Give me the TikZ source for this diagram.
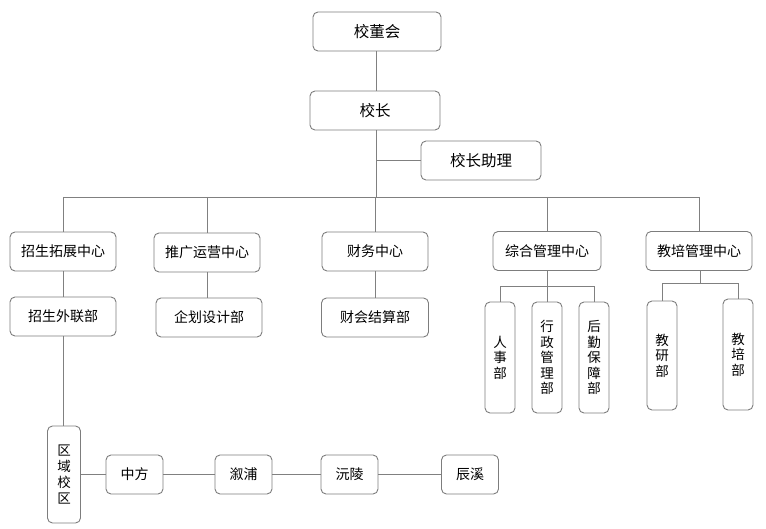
\documentclass[tikz,border=0pt]{standalone}
\usepackage{fontspec}
\setmainfont{Noto Sans CJK SC}
\usepackage{xcolor}
\usetikzlibrary{positioning}

\definecolor{boxgray}{RGB}{125,125,125}
\definecolor{linegray}{RGB}{128,128,128}

\tikzset{
  box/.style={draw=boxgray, fill=white, rounded corners=5pt, line width=0.9pt, inner sep=0pt,
    minimum width=106, minimum height=39, font=\fontsize{14}{15}\selectfont},
  topbox/.style={box, minimum width=128, font=\fontsize{15.5}{17}\selectfont},
  vbox/.style={box, minimum width=30, align=center, font=\fontsize{13.5}{15.5}\selectfont},
  link/.style={draw=linegray, line width=0.8pt},
}

\begin{document}
\begin{tikzpicture}[x=1pt, y=-1pt]
  \useasboundingbox (0,0) rectangle (766,529);

  % top
  \node[topbox] (board) at (377,31.5) {校董会};
  \node[topbox, minimum width=130] (head) at (375,110.5) {校长};
  \node[topbox, minimum width=120] (assist) at (481,160.5) {校长助理};
  \coordinate (bus) at (376,197);

  % centres
  \node[box] (recruit) at (63,251.5) {招生拓展中心};
  \node[box] (promo) at (207,252.5) {推广运营中心};
  \node[box] (finance) at (375,251.5) {财务中心};
  \node[box, minimum width=108] (admin) at (547,251) {综合管理中心};
  \node[box] (teach) at (699,251) {教培管理中心};

  % departments
  \node[box] (liaison) at (63,316.5) {招生外联部};
  \node[box] (design) at (209,317.5) {企划设计部};
  \node[box, minimum width=107] (account) at (375,317.5) {财会结算部};

  \node[vbox, minimum height=111] (hr) at (500,357.5) {人\\事\\部};
  \node[vbox, minimum height=111] (office) at (547,357.5) {行\\政\\管\\理\\部};
  \node[vbox, minimum height=111] (logi) at (594,357.5) {后\\勤\\保\\障\\部};
  \coordinate (adminbus) at (547,286);

  \node[vbox, minimum height=109] (research) at (662,355.5) {教\\研\\部};
  \node[vbox, minimum height=111] (train) at (738,354.5) {教\\培\\部};
  \coordinate (teachbus) at (700,283);

  % campuses
  \node[vbox, minimum width=33, minimum height=97, font=\fontsize{13.5}{16}\selectfont] (region) at (64,474.5) {区\\域\\校\\区};
  \node[box, minimum width=57] (zf) at (134.5,474.5) {中方};
  \node[box, minimum width=57] (xp) at (243.5,474.5) {溆浦};
  \node[box, minimum width=57] (yl) at (349.5,474.5) {沅陵};
  \node[box, minimum width=57] (cx) at (470,474.5) {辰溪};

  % connectors
  \draw[link] (board.south -| 376,0) -- (head.north -| 376,0);
  \draw[link] (head.south -| bus) -- (bus);
  \draw[link] (assist.west) -- (assist.west -| bus);
  \draw[link] (recruit.north |- bus) -- (teach.north |- bus);
  \foreach \c in {recruit, promo, finance, admin, teach}
    \draw[link] (\c.north |- bus) -- (\c.north);
  \draw[link] (recruit) -- (liaison);
  \draw[link] (promo.south) -- (promo.south |- design.north);
  \draw[link] (finance) -- (account);
  \draw[link] (liaison.south) -- (liaison.south |- region.north);

  \draw[link] (admin.south) -- (office.north);
  \draw[link] (hr.north) -- (hr.north |- adminbus) -- (logi.north |- adminbus) -- (logi.north);
  \draw[link] (teach.south -| teachbus) -- (teachbus);
  \draw[link] (research.north) -- (research.north |- teachbus) -- (train.north |- teachbus) -- (train.north);

  \foreach \a/\b in {region/zf, zf/xp, xp/yl, yl/cx}
    \draw[link] (\a) -- (\b);
\end{tikzpicture}
\end{document}
